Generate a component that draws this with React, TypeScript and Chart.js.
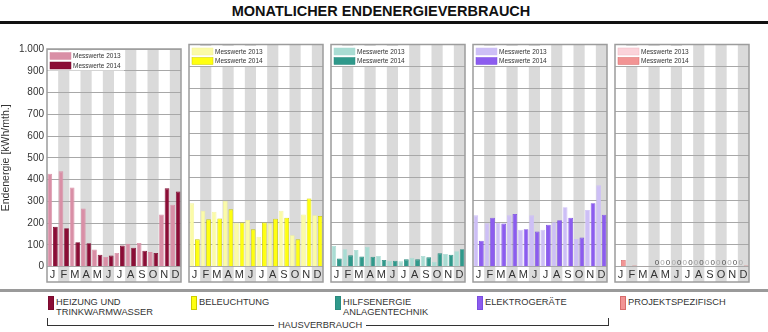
import { useEffect, useRef } from "react";
import { Chart, registerables } from "chart.js";
Chart.register(...registerables);

const months = ["J", "F", "M", "A", "M", "J", "J", "A", "S", "O", "N", "D"];
const yTickLabels = ["0", "100", "200", "300", "400", "500", "600", "700", "800", "900", "1.000"];
const seriesLabels = ["Messwerte 2013", "Messwerte 2014"];

const heizung2013 = [427, 438, 364, 267, 79, 45, 63, 105, 109, 67, 240, 285];
const heizung2014 = [183, 177, 112, 108, 55, 51, 97, 87, 73, 63, 360, 345];
const beleuchtung2013 = [285, 252, 247, 297, 198, 210, 135, 195, 252, 142, 235, 232];
const beleuchtung2014 = [123, 213, 217, 258, 199, 168, 199, 216, 220, 123, 307, 228];
const hilfs2013 = [93, 79, 75, 90, 48, 27, 24, 40, 48, 22, 57, 70];
const hilfs2014 = [37, 51, 46, 45, 30, 27, 33, 33, 42, 60, 54, 79];
const elektro2013 = [231, 195, 197, 231, 166, 231, 166, 200, 268, 125, 255, 366];
const elektro2014 = [117, 220, 194, 237, 169, 158, 189, 209, 220, 131, 286, 234];
const projekt2013 = [null, null, null, null, 0, 0, 0, 0, 0, 0, 0, 0];
const projekt2014 = [30, 5, 1, 0, 0, 0, 0, 0, 0, 0, 0, 5];

const categoryNames = [
  ["HEIZUNG UND", "TRINKWARMWASSER"],
  ["BELEUCHTUNG"],
  ["HILFSENERGIE", "ANLAGENTECHNIK"],
  ["ELEKTROGERÄTE"],
  ["PROJEKTSPEZIFISCH"],
];

const FONT = "'Liberation Sans', Arial, Helvetica, sans-serif";

type Panel = {
  d13: (number | null)[];
  d14: (number | null)[];
  c13: string;
  c14: string;
  b13: string;
  b14: string;
  zeros?: boolean;
};

const panels: Panel[] = [
  { d13: heizung2013, d14: heizung2014, c13: "#d98fa6", c14: "#8b0d36", b13: "#d98fa6", b14: "#7a0a2e" },
  { d13: beleuchtung2013, d14: beleuchtung2014, c13: "#fbfba8", c14: "#ffff10", b13: "#f2f29a", b14: "#cccc00" },
  { d13: hilfs2013, d14: hilfs2014, c13: "#a9dcd3", c14: "#2f998b", b13: "#a9dcd3", b14: "#2a8a7e" },
  { d13: elektro2013, d14: elektro2014, c13: "#cdbff6", c14: "#8c5cef", b13: "#cdbff6", b14: "#7a4ee0" },
  { d13: projekt2013, d14: projekt2014, c13: "#fbd3da", c14: "#f29494", b13: "#f0b8c2", b14: "#d86c6c", zeros: true },
];

const LEFTS = [47, 189, 331, 473, 615];
const PW = 134;
const LABEL_ROW = 15.3;
const CANVAS_TOP = 40;
const CANVAS_H = 245;

function makePlugins(p: Panel) {
  return [
    {
      id: "stripes",
      beforeDraw(chart: any) {
        const { ctx, chartArea } = chart;
        const xs = chart.scales.x;
        const w = xs.width / months.length;
        ctx.save();
        ctx.fillStyle = "#dadada";
        for (let i = 1; i < months.length; i += 2) {
          const cx = xs.getPixelForValue(i);
          ctx.fillRect(cx - w / 2, chartArea.top, w, chartArea.bottom + LABEL_ROW - chartArea.top);
        }
        ctx.restore();
      },
    },
    {
      id: "frameAndLegend",
      afterDatasetsDraw(chart: any) {
        const { ctx, chartArea } = chart;
        ctx.save();
        if (p.zeros) {
          ctx.font = `8px ${FONT}`;
          ctx.textAlign = "center";
          ctx.textBaseline = "alphabetic";
          chart.data.datasets.forEach((ds: any, di: number) => {
            const meta = chart.getDatasetMeta(di);
            ds.data.forEach((v: any, i: number) => {
              if (v === 0) {
                const el = meta.data[i];
                ctx.fillStyle = di === 0 ? "#a8a8a8" : "#555555";
                ctx.fillText("0", el.x, chartArea.bottom - 1.5);
              }
            });
          });
        }
        ctx.strokeStyle = "#9c9c9c";
        ctx.lineWidth = 1.5;
        ctx.strokeRect(chartArea.left, chartArea.top, chartArea.right - chartArea.left, chartArea.bottom + LABEL_ROW - chartArea.top);
        const lx = chartArea.left + 1;
        const ly = chartArea.top + 1.5;
        ctx.fillStyle = "#ffffff";
        ctx.fillRect(lx, ly, 76, 20);
        const cols = [p.c13, p.c14];
        const bcols = [p.b13, p.b14];
        ctx.font = `6.5px ${FONT}`;
        ctx.textBaseline = "middle";
        ctx.textAlign = "left";
        for (let k = 0; k < 2; k++) {
          const sy = ly + 2 + k * 9.5;
          ctx.fillStyle = cols[k];
          ctx.fillRect(lx + 2, sy, 21, 7);
          ctx.strokeStyle = bcols[k];
          ctx.lineWidth = 0.5;
          ctx.strokeRect(lx + 2, sy, 21, 7);
          ctx.fillStyle = "#333";
          ctx.fillText(seriesLabels[k], lx + 25, sy + 3.8);
        }
        ctx.restore();
      },
    },
  ];
}

function PanelChart({ p, index }: { p: Panel; index: number }) {
  const ref = useRef<HTMLCanvasElement>(null);
  const first = index === 0;
  const left = first ? 0 : LEFTS[index] - 2;
  const width = first ? LEFTS[0] + PW + 2 : PW + 4;
  useEffect(() => {
    if (!ref.current) return;
    const bw = (ctx: any) => {
      const v = ctx.raw;
      return v && v > 0 ? 0.8 : 0;
    };
    const chart = new Chart(ref.current, {
      type: "bar",
      data: {
        labels: months,
        datasets: [
          {
            label: seriesLabels[0],
            data: p.d13 as any,
            backgroundColor: p.c13,
            borderColor: p.b13,
            borderWidth: bw,
            barPercentage: 0.85,
            categoryPercentage: 1,
          },
          {
            label: seriesLabels[1],
            data: p.d14 as any,
            backgroundColor: p.c14,
            borderColor: p.b14,
            borderWidth: bw,
            barPercentage: 0.85,
            categoryPercentage: 1,
          },
        ],
      },
      options: {
        animation: false,
        responsive: false,
        devicePixelRatio: 1,
        layout: { padding: { left: first ? 0 : 2, right: 2, top: 4.5, bottom: 3 } },
        plugins: { legend: { display: false }, tooltip: { enabled: false } },
        scales: {
          x: {
            grid: { display: false, drawTicks: false },
            border: { display: false },
            ticks: { color: "#333", font: { size: 11, family: FONT }, padding: 2, maxRotation: 0, autoSkip: false },
            afterFit: (s: any) => {
              s.height = LABEL_ROW;
            },
          },
          y: {
            min: 0,
            max: 1000,
            grid: { color: "#a8a8a8", lineWidth: 1, drawTicks: false },
            border: { display: false },
            ticks: {
              display: first,
              stepSize: 100,
              color: "#333",
              padding: 3,
              font: { size: 10, family: FONT },
              callback: (_v: any, i: number) => yTickLabels[i],
            },
            title: {
              display: first,
              text: "Endenergie [kWh/mth.]",
              color: "#333",
              font: { size: 10.5, family: FONT },
              padding: 0,
            },
            afterFit: (s: any) => {
              s.width = first ? LEFTS[0] : 0;
            },
          },
        },
      },
      plugins: makePlugins(p) as any,
    });
    return () => chart.destroy();
  }, []);
  return (
    <canvas
      ref={ref}
      width={width}
      height={CANVAS_H}
      style={{ position: "absolute", left, top: CANVAS_TOP, width, height: CANVAS_H }}
    />
  );
}

const legendX = [48, 191, 335, 477, 620];

export default function App() {
  return (
    <div style={{ position: "absolute", left: 0, top: 0, width: 768, height: 332, background: "#fff", fontFamily: FONT, overflow: "hidden" }}>
      <div style={{ position: "absolute", left: 0, top: 3, width: 762, textAlign: "center", fontWeight: "bold", fontSize: 14.5, color: "#111", lineHeight: "16px" }}>
        MONATLICHER ENDENERGIEVERBRAUCH
      </div>
      <div style={{ position: "absolute", left: 0, top: 21, width: 768, height: 3, background: "#111" }} />
      {panels.map((p, i) => (
        <PanelChart key={i} p={p} index={i} />
      ))}
      <div style={{ position: "absolute", left: 0, top: 289, width: 768, height: 2.5, background: "#9a9a9a" }} />
      {panels.map((p, i) => (
        <div key={"lg" + i}>
          <div style={{ position: "absolute", left: legendX[i], top: 296, width: 4, height: 12, background: p.c14, border: `0.5px solid ${p.b14}` }} />
          <div style={{ position: "absolute", left: legendX[i] + 8, top: 297, fontSize: 9.3, lineHeight: "10px", color: "#333", whiteSpace: "nowrap" }}>
            {categoryNames[i].map((t, k) => (
              <div key={k}>{t}</div>
            ))}
          </div>
        </div>
      ))}
      <div style={{ position: "absolute", left: 47, top: 318, width: 560, height: 7, borderLeft: "1px solid #333", borderRight: "1px solid #333", borderBottom: "1px solid #333" }} />
      <div style={{ position: "absolute", left: 40, top: 320, width: 560, textAlign: "center", fontSize: 9.3, lineHeight: "10px", color: "#333" }}>
        <span style={{ background: "#fff", padding: "0 4px" }}>HAUSVERBRAUCH</span>
      </div>
    </div>
  );
}
